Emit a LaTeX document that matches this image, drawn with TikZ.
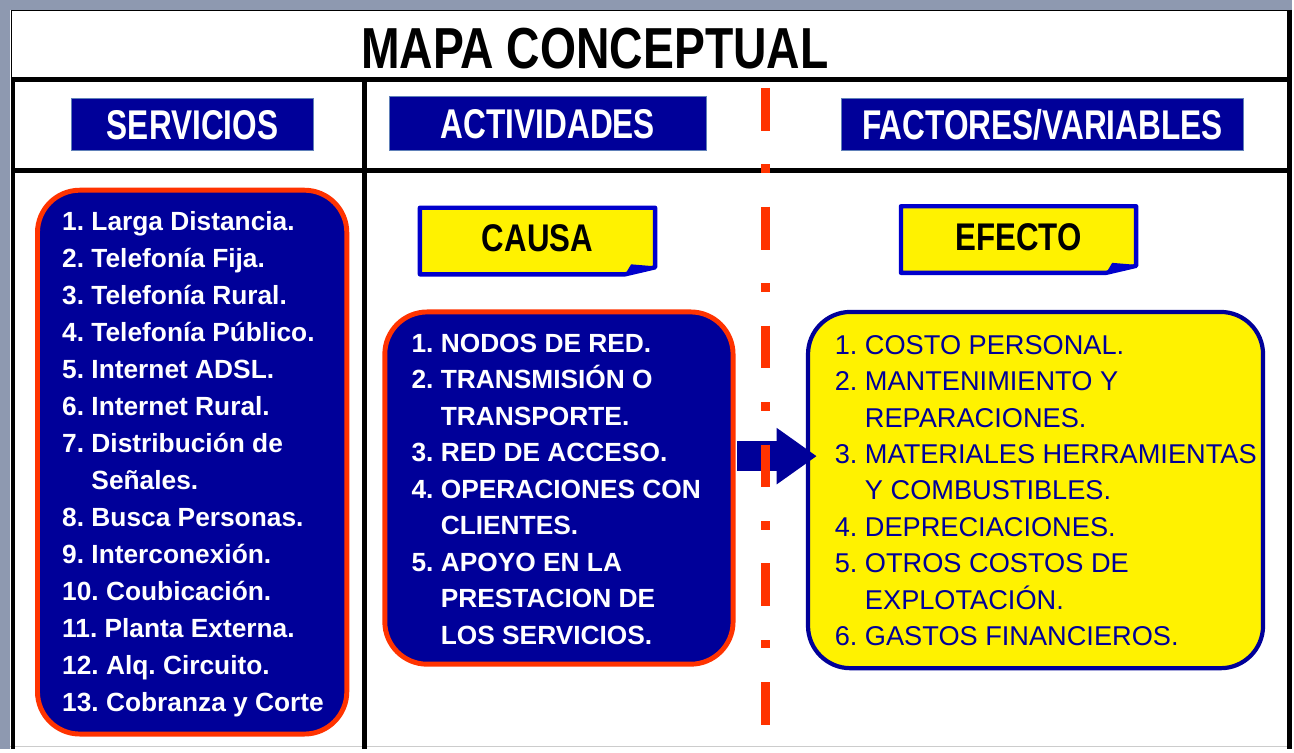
\documentclass[tikz,border=0pt]{standalone}
\usepackage{fontspec}
\setmainfont{Liberation Sans}
\usetikzlibrary{arrows.meta,calc}

\definecolor{navy}{RGB}{0,0,153}
\definecolor{redline}{RGB}{255,51,0}
\definecolor{tagblue}{RGB}{0,0,204}
\definecolor{bandgray}{RGB}{142,153,176}
\definecolor{headedge}{RGB}{96,128,184}

\newcommand{\squeezetext}[2]{\scalebox{#1}[1]{#2}}

\begin{document}
\frenchspacing
\begin{tikzpicture}[x=0.02cm,y=-0.02cm,
    rule/.style={line width=2.8pt},
    headbox/.style={fill=navy,draw=headedge,line width=0.6pt,text=white,
      inner sep=0pt,font=\fontsize{23.7}{26}\selectfont\bfseries},
    tagtext/.style={inner sep=0pt,font=\fontsize{22}{24}\selectfont\bfseries},
    listbox/.style={rounded corners=0.85cm,inner sep=0pt,line width=2.8pt},
    listtext/.style={anchor=west,align=left,inner sep=0pt}]

    % Grey page edge and white sheet
    \fill[bandgray] (0,0) rectangle (1294,750);
    \fill[white] (10,10) rectangle (1294,750);
    \draw[gray!40,line width=0.6pt] (10,747.5) -- (1294,747.5);

    % Frame of the table
    \draw[line width=0.9pt] (11,10.5) -- (1290,10.5);
    \draw[line width=0.9pt] (11.5,10) -- (11.5,80);
    \draw[rule] (11,80) -- (1294,80);
    \draw[rule] (11,171) -- (1294,171);
    \draw[rule] (13,80) -- (13,750);
    \draw[rule] (365,80) -- (365,750);
    \draw[rule] (1292,10) -- (1292,750);

    % Title
    \node[font=\fontsize{33}{36}\selectfont\bfseries] (titulo) at (596,49)
      {\squeezetext{0.8}{MAPA CONCEPTUAL}};

    % Column headings
    \node[headbox,minimum width=4.84cm,minimum height=1.04cm] (servicios) at (193,125)
      {\squeezetext{0.76}{SERVICIOS}};
    \node[headbox,minimum width=6.36cm,minimum height=1.08cm] (actividades) at (549,124)
      {\squeezetext{0.76}{ACTIVIDADES}};
    \node[headbox,minimum width=8.06cm,minimum height=1.04cm] (factores) at (1044.5,125)
      {\squeezetext{0.76}{FACTORES/VARIABLES}};

    % Yellow tags with a folded corner
    \foreach \nm/\cx/\cy/\word in {causa/538.5/241.5/CAUSA,efecto/1020.5/240/EFECTO}{
      \node[minimum width=4.7cm,minimum height=1.32cm,inner sep=0pt] (\nm) at (\cx,\cy) {};
      \filldraw[fill=yellow,draw=tagblue,line width=2.5pt,line join=round]
        (\nm.north west) -- (\nm.north east) -- ($(\nm.south east)+(0,-7)$)
        -- ($(\nm.south east)+(-30,0)$) -- (\nm.south west) -- cycle;
      \fill[tagblue] ($(\nm.south east)+(-30,0)$) -- ($(\nm.south east)+(-24,-10)$)
        -- ($(\nm.south east)+(0,-8)$) -- cycle;
      \node[tagtext] (\nm-txt) at ($(\nm)+(0,-2.5)$) {\squeezetext{0.81}{\word}};
    }

    % List boxes
    \node[listbox,fill=navy,draw=redline,minimum width=6.2cm,minimum height=10.9cm]
      (servbox) at (192.5,463) {};
    \node[listbox,fill=navy,draw=redline,minimum width=6.98cm,minimum height=7.06cm]
      (actbox) at (560,489) {};
    \node[listbox,fill=yellow,draw=navy,line width=2.4pt,minimum width=9.12cm,minimum height=7.14cm]
      (efbox) at (1037.5,491) {};

    % Services
    \node[listtext,text=white,font=\fontsize{15}{21.07}\selectfont\bfseries] (servtxt) at (62,465)
      {1. Larga Distancia.\\
       2. Telefonía Fija.\\
       3. Telefonía Rural.\\
       4. Telefonía Público.\\
       5. Internet ADSL.\\
       6. Internet Rural.\\
       7. Distribución de\\
       \phantom{7. }Señales.\\
       8. Busca Personas.\\
       9. Interconexión.\\
       10. Coubicación.\\
       11. Planta Externa.\\
       12. Alq. Circuito.\\
       13. Cobranza y Corte};

    % Activities (cause)
    \node[listtext,text=white,font=\fontsize{15}{20.8}\selectfont\bfseries] (acttxt) at (412,490)
      {1. NODOS DE RED.\\
       2. TRANSMISIÓN O\\
       \phantom{2. }TRANSPORTE.\\
       3. RED DE ACCESO.\\
       4. OPERACIONES CON\\
       \phantom{4. }CLIENTES.\\
       5. APOYO EN LA\\
       \phantom{5. }PRESTACION DE\\
       \phantom{5. }LOS SERVICIOS.};

    % Factors (effect)
    \node[listtext,text=navy,font=\fontsize{15.5}{20.75}\selectfont] (eftxt) at (836,491.5)
      {1. COSTO PERSONAL.\\
       2. MANTENIMIENTO Y\\
       \phantom{2. }REPARACIONES.\\
       3. MATERIALES HERRAMIENTAS\\
       \phantom{3. }Y COMBUSTIBLES.\\
       4. DEPRECIACIONES.\\
       5. OTROS COSTOS DE\\
       \phantom{5. }EXPLOTACIÓN.\\
       6. GASTOS FINANCIEROS.};

    % Block arrow from cause to effect
    \coordinate (arrowlvl) at (0,457);
    \draw[navy,line width=17pt,-{Triangle[width=32.3pt,length=22.7pt,line width=0pt]},
      shorten <=1.1pt,shorten >=-6pt] (actbox.east |- arrowlvl) -- (efbox.west |- arrowlvl);

    % Red dash-dot divider
    \coordinate (divtop) at (767,88);
    \coordinate (divbot) at (767,750);
    \draw[redline,line width=5pt,dash pattern=on 24.4pt off 19.3pt on 4.8pt off 19.3pt]
      (divtop) -- (divbot);

\end{tikzpicture}
\end{document}
